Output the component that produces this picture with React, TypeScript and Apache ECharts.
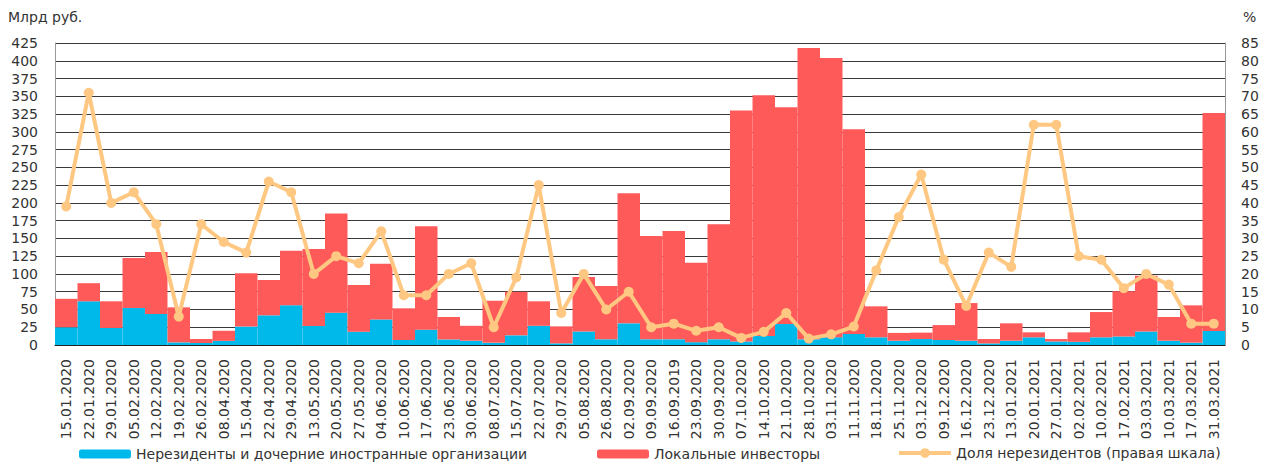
import React, { useEffect, useRef } from "react";
import * as echarts from "echarts";

const categories = [
  "15.01.2020", "22.01.2020", "29.01.2020", "05.02.2020", "12.02.2020", "19.02.2020", "26.02.2020",
  "08.04.2020", "15.04.2020", "22.04.2020", "29.04.2020", "13.05.2020", "20.05.2020", "27.05.2020",
  "04.06.2020", "10.06.2020", "17.06.2020", "23.06.2020", "30.06.2020", "08.07.2020", "15.07.2020",
  "22.07.2020", "29.07.2020", "05.08.2020", "26.08.2020", "02.09.2020", "09.09.2020", "16.09.2019",
  "23.09.2020", "30.09.2020", "07.10.2020", "14.10.2020", "21.10.2020", "28.10.2020", "03.11.2020",
  "11.11.2020", "18.11.2020", "25.11.2020", "03.12.2020", "09.12.2020", "16.12.2020", "23.12.2020",
  "13.01.2021", "20.01.2021", "27.01.2021", "02.02.2021", "10.02.2021", "17.02.2021", "03.03.2021",
  "10.03.2021", "17.03.2021", "31.03.2021",
];

const nonResidents = [
  25, 61.5, 24, 52, 43.6, 3.7, 2.8, 5.8, 26, 41.8, 56, 26.7, 45.5, 18.8, 36, 7, 21.6, 7.8, 6, 3,
  13.6, 27, 2.3, 19, 8, 30.5, 8, 8, 4, 8, 5, 12.7, 29.5, 8, 11, 15.5, 10.8, 6, 8.4, 7, 6, 2.2, 6,
  10.8, 5, 4.4, 10.8, 12, 19, 6, 3.3, 19.7,
];

const localInvestors = [
  40, 25.5, 37.5, 70.4, 87.4, 49.3, 5.6, 14.2, 75, 49.7, 76.7, 108.3, 139.5, 65.6, 78.4, 44.6,
  145.4, 31.6, 21, 59.4, 61.4, 34.5, 23.9, 76.7, 75, 183, 145.4, 152.4, 111.8, 162, 325, 338.7,
  305, 410, 393, 288, 43.6, 11, 9, 21, 53, 6.2, 24.5, 7, 3.4, 13.4, 35.6, 63.5, 78.5, 33.4, 52.5,
  306.8,
];

const nonResShare = [
  39, 71, 40, 43, 34, 8, 34, 29, 26, 46, 43, 20, 25, 23, 32, 14, 14, 20, 23, 5, 19, 45, 9, 20, 10,
  15, 5, 6, 4, 5, 2, 3.7, 9, 1.8, 3, 5.2, 21, 36, 48, 24, 11, 26, 22, 62, 62, 25, 24, 16, 20, 17,
  6, 6,
];

const seriesNames = [
  "Нерезиденты и дочерние иностранные организации",
  "Локальные инвесторы",
  "Доля нерезидентов (правая шкала)",
];

const FONT = "DejaVu Sans";
const TXT = "#333333";

export default function App() {
  const ref = useRef<HTMLDivElement>(null);

  useEffect(() => {
    if (!ref.current) return;
    const chart = echarts.init(ref.current, null, { renderer: "svg" });
    const legendBase = {
      top: 447,
      itemWidth: 52,
      itemHeight: 9,
      itemGap: 0,
      textStyle: { fontFamily: FONT, fontSize: 14, color: TXT, padding: [0, 0, 0, 0] },
      padding: 0,
    };
    chart.setOption({
      animation: false,
      textStyle: { fontFamily: FONT },
      grid: { left: 55, right: 46, top: 43, bottom: 125, containLabel: false },
      legend: [
        { ...legendBase, left: 79, data: [seriesNames[0]] },
        { ...legendBase, left: 597, data: [seriesNames[1]] },
        {
          ...legendBase,
          left: 897,
          itemHeight: 12,
          top: 446,
          lineStyle: { width: 4 },
          data: [seriesNames[2]],
        },
      ],
      graphic: [
        {
          type: "text",
          left: 8,
          top: 10,
          style: { text: "Млрд руб.", font: `14px '${FONT}'`, fill: TXT },
        },
        {
          type: "text",
          left: 1243,
          top: 10,
          style: { text: "%", font: `14px '${FONT}'`, fill: TXT },
        },
      ],
      xAxis: {
        type: "category",
        data: categories,
        axisLine: { show: true, lineStyle: { color: "#222", width: 1 } },
        axisTick: { show: false },
        axisLabel: {
          interval: 0,
          rotate: 90,
          fontFamily: FONT,
          fontSize: 14,
          color: TXT,
          margin: 14,
        },
      },
      yAxis: [
        {
          type: "value",
          min: 0,
          max: 425,
          interval: 25,
          axisLine: { show: true, lineStyle: { color: "#999", width: 1 } },
          axisTick: { show: false },
          splitLine: { show: true, lineStyle: { color: "#3a3a3a", width: 1 } },
          axisLabel: { fontFamily: FONT, fontSize: 14, color: TXT, margin: 17 },
        },
        {
          type: "value",
          min: 0,
          max: 85,
          interval: 5,
          position: "right",
          axisLine: { show: true, lineStyle: { color: "#999", width: 1 } },
          axisTick: { show: false },
          splitLine: { show: false },
          axisLabel: { fontFamily: FONT, fontSize: 14, color: TXT, margin: 16 },
        },
      ],
      series: [
        {
          name: seriesNames[0],
          type: "bar",
          stack: "total",
          data: nonResidents,
          barCategoryGap: "0%",
          itemStyle: { color: "#00B9EB" },
        },
        {
          name: seriesNames[1],
          type: "bar",
          stack: "total",
          data: localInvestors,
          barCategoryGap: "0%",
          itemStyle: { color: "#FF5A5A" },
        },
        {
          name: seriesNames[2],
          type: "line",
          yAxisIndex: 1,
          data: nonResShare,
          symbol: "circle",
          symbolSize: 10,
          lineStyle: { color: "#FFC882", width: 4 },
          itemStyle: { color: "#FFC882" },
          z: 5,
        },
      ],
    });
    return () => chart.dispose();
  }, []);

  return (
    <div
      ref={ref}
      style={{ position: "absolute", left: 0, top: 0, width: 1271, height: 470 }}
    />
  );
}
